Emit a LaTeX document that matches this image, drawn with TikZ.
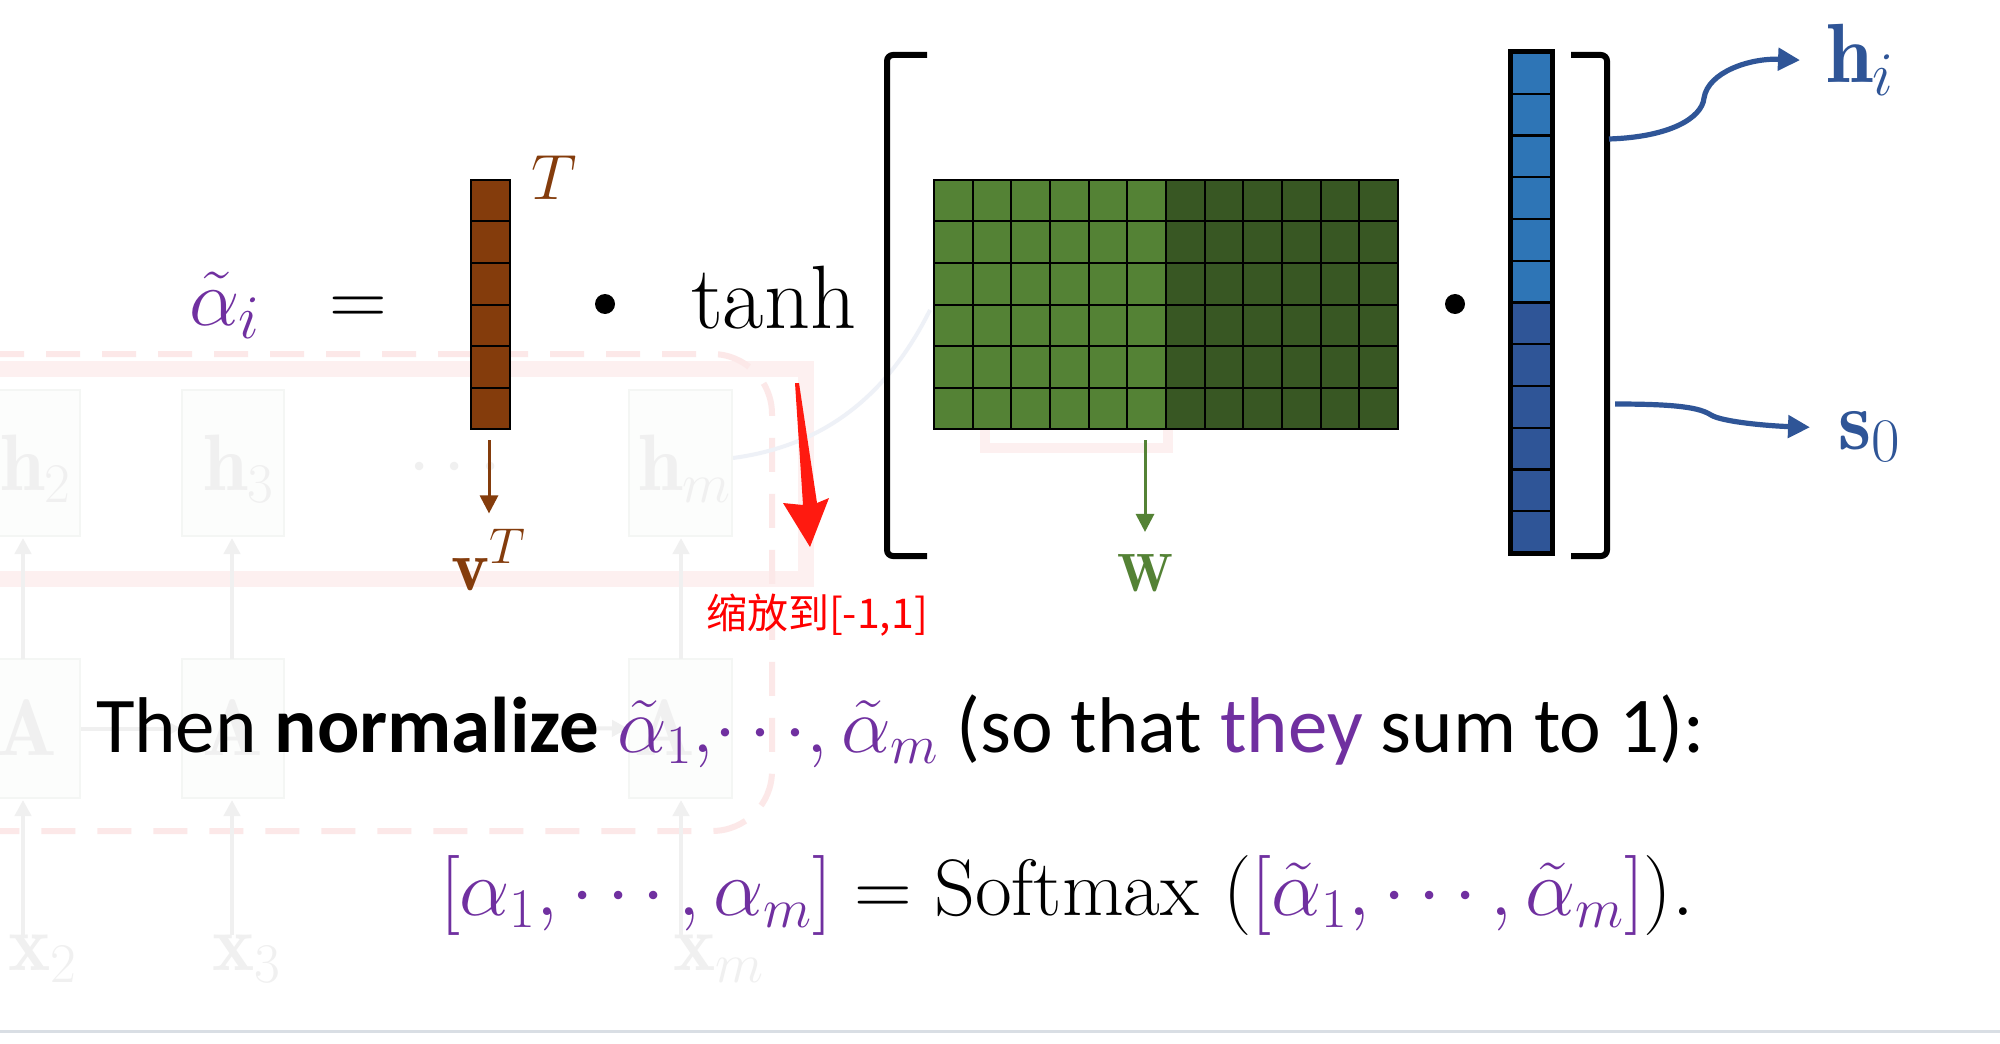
\RequirePackage{fix-cm}
\documentclass[tikz,border=0pt]{standalone}
\usepackage{fontspec}
\newfontfamily\calibri{Carlito}
\newfontfamily\cjk{Noto Sans CJK SC}
\usetikzlibrary{arrows.meta}
\definecolor{purp}{HTML}{7030A0}
\definecolor{brn}{HTML}{843C0C}
\definecolor{glight}{HTML}{548235}
\definecolor{gdark}{HTML}{385723}
\definecolor{blight}{HTML}{2E75B6}
\definecolor{bdark}{HTML}{2F5597}
\definecolor{redarrow}{HTML}{FF1A10}
\definecolor{ghtext}{HTML}{F0F0F0}
\definecolor{ghbox}{HTML}{F4F6F4}
\definecolor{ghfill}{HTML}{FCFDFC}
\definecolor{ghpink}{HTML}{FDF0F0}
\definecolor{ghdash}{HTML}{FCE8E8}
\definecolor{ghblue}{HTML}{EEF1F7}
\definecolor{rulegray}{HTML}{D9DEE4}
\newcommand\eqfont{\fontsize{40}{48}\selectfont}
\newcommand\bigsub[1]{\hbox{\fontsize{31}{36}\selectfont$#1$}}
\tikzset{
  lbl/.style={inner sep=0pt, outer sep=0pt},
  cell/.style={draw=black, line width=1pt},
  frame/.style={draw=black, inner sep=0pt, outer sep=0pt},
  bracket/.style={draw=black, line width=3pt, rounded corners=3pt},
  dotop/.style={circle, fill=black, inner sep=0pt, minimum size=10pt},
  thinarrow/.style={line width=1.5pt, -{Triangle[length=9pt,width=9pt]}},
  bluearrow/.style={draw=bdark, line width=2.6pt, -{Triangle[length=11pt,width=11pt]}},
  gbox/.style={draw=ghbox, fill=ghfill, line width=1pt},
  glbl/.style={inner sep=0pt, text=ghtext},
  garrow/.style={draw=ghtext, line width=2pt, -{Triangle[length=8pt,width=8pt]}},
}
\begin{document}
\begin{tikzpicture}[x=0.5pt,y=-0.5pt]
\useasboundingbox (0,0) rectangle (2000,1043);
\fill[white] (0,0) rectangle (2000,1043);

% ---------- faint background (ghost) ----------
\draw[ghpink, line width=8pt] (-10,369) -- (806,369) -- (806,579) -- (-10,579);
\draw[ghdash, line width=3pt, dash pattern=on 17pt off 11pt, rounded corners=30pt] (-10,354) -- (772,354) -- (772,831) -- (-10,831);
\draw[ghpink, line width=5pt] (985,420) -- (985,448) -- (1168,448) -- (1168,420);
\draw[ghblue, line width=2pt] (733,458) .. controls (830,445) and (890,390) .. (930,310);
\node[gbox, minimum width=42.5pt, minimum height=73pt, inner sep=0pt] (gh2) at (37.5,463) {};
\node[gbox, minimum width=51pt, minimum height=73pt, inner sep=0pt] (gh3) at (233,463) {};
\node[gbox, minimum width=51.5pt, minimum height=73pt, inner sep=0pt] (ghm) at (680.5,463) {};
\node[gbox, minimum width=42.5pt, minimum height=69.5pt, inner sep=0pt] (gA2) at (37.5,728.5) {};
\node[gbox, minimum width=51pt, minimum height=69.5pt, inner sep=0pt] (gA3) at (233,728.5) {};
\node[gbox, minimum width=51.5pt, minimum height=69.5pt, inner sep=0pt] (gAm) at (680.5,728.5) {};
\node[glbl, anchor=base west] (th2) at (0,490) {\eqfont$\mathbf{h}_2$};
\node[glbl, anchor=base west] (th3) at (203,490) {\eqfont$\mathbf{h}_3$};
\node[glbl, anchor=base west] (thm) at (638,490) {\eqfont$\mathbf{h}_m$};
\node[glbl] (tdots) at (455,469) {\eqfont$\cdots$};
\node[glbl, anchor=base] (tA2) at (27,755) {\eqfont$\mathbf{A}$};
\node[glbl, anchor=base] (tA3) at (233,755) {\eqfont$\mathbf{A}$};
\node[glbl, anchor=base] (tAm) at (665,755) {\eqfont$\mathbf{A}$};
\node[glbl, anchor=base west] (tx2) at (8,970) {\eqfont$\mathbf{x}_2$};
\node[glbl, anchor=base west] (tx3) at (212,970) {\eqfont$\mathbf{x}_3$};
\node[glbl, anchor=base west] (txm) at (673,970) {\eqfont$\mathbf{x}_m$};
\draw[garrow] (23,935) -- (23,800);
\draw[garrow] (232,935) -- (232,800);
\draw[garrow] (681,935) -- (681,800);
\draw[garrow] (23,659) -- (23,538);
\draw[garrow] (232,659) -- (232,538);
\draw[garrow] (681,659) -- (681,538);
\draw[garrow] (gA2.east) -- (gA3.west);
\draw[garrow] (560,728) -- (gAm.west);

% ---------- top equation ----------
\node[lbl, anchor=base west, text=purp] (alpha) at (189,325) {\eqfont$\tilde{\alpha}_{\bigsub{i}}$};
\node[lbl, anchor=base] (eq) at (358,325) {\eqfont$=$};

% v^T vector (brown)
\foreach \r in {0,...,5}
  \draw[cell, fill=brn] (471,{180+\r*41.5}) rectangle ++(39,41.5);
\node[frame, line width=1pt, minimum width=19.5pt, minimum height=124.5pt] (vvec) at (490.5,304.5) {};
\node[lbl, anchor=base west, text=brn] (vsup) at (531,200) {\fontsize{32}{38}\selectfont$T$};

\node[dotop] (dot1) at (605,304) {};
\node[lbl, anchor=base west] (tanh) at (691,328) {\fontsize{45}{52}\selectfont$\tanh$};

% left bracket
\draw[bracket] (927,55) -- (887,55) -- (887,556) -- (927,556);

% W matrix (green)
\foreach \c in {0,...,5}
  \foreach \r in {0,...,5}
    \draw[cell, fill=glight] ({934+\c*38.6667},{180+\r*41.5}) rectangle ++(38.6667,41.5);
\foreach \c in {6,...,11}
  \foreach \r in {0,...,5}
    \draw[cell, fill=gdark] ({934+\c*38.6667},{180+\r*41.5}) rectangle ++(38.6667,41.5);
\node[frame, line width=1pt, minimum width=232pt, minimum height=124.5pt] (Wmat) at (1166,304.5) {};

\node[dotop] (dot2) at (1455,304) {};

% [h_i; s_0] vector (blue)
\foreach \r in {0,...,5}
  \draw[cell, line width=1.2pt, fill=blight] (1510,{52+\r*41.75}) rectangle ++(42,41.75);
\foreach \r in {6,...,11}
  \draw[cell, line width=1.2pt, fill=bdark] (1510,{52+\r*41.75}) rectangle ++(42,41.75);
\node[frame, line width=2.5pt, minimum width=21pt, minimum height=250.5pt] (hvec) at (1531,302.5) {};

% right bracket
\draw[bracket] (1571,55) -- (1607,55) -- (1607,556) -- (1571,556);

% labels below
\node[lbl, anchor=base, text=brn] (vlab) at (489,590) {\fontsize{36}{42}\selectfont$\mathbf{v}^{T}$};
\node[lbl, anchor=base, text=glight] (wlab) at (1145,591) {\fontsize{27}{32}\selectfont$\mathbf{W}$};
\draw[thinarrow, draw=brn, fill=brn, shorten <=5.5pt, shorten >=8pt] (vlab |- vvec.south) -- (vlab.north);
\draw[thinarrow, draw=glight, fill=glight, shorten <=5.5pt, shorten >=11pt] (wlab |- Wmat.south) -- (wlab.north);

% h_i and s_0 outputs
\node[lbl, anchor=base west, text=bdark] (hlab) at (1826,83) {\fontsize{42}{50}\selectfont$\mathbf{h}_{\bigsub{i}}$};
\node[lbl, anchor=base west, text=bdark] (slab) at (1838,449) {\fontsize{42}{50}\selectfont$\mathbf{s}_{\bigsub{0}}$};
\coordinate (hsrc) at (1609,139);
\coordinate (ssrc) at (1615,404);
\draw[bluearrow] (hsrc) .. controls (1670,137) and (1702,118) .. (1704,98)
  .. controls (1708,72) and (1750,58) .. ([xshift=-13pt]hlab.west);
\draw[bluearrow] (ssrc) .. controls (1680,404) and (1700,408) .. (1711,415)
  .. controls (1722,422) and (1770,426) .. ([xshift=-14pt,yshift=4.5pt]slab.west);

% red annotation
\fill[redarrow] (795,383) -- (799,383) -- (817,503) -- (829,498) -- (810,547) -- (783,503) -- (803,505) -- cycle;
\node[lbl, text=red] (scalenote) at (817,615) {\cjk\fontsize{20.5}{24}\selectfont 缩放到[-1,1]};

% ---------- normalization text ----------
\node[lbl, anchor=base west] (norm) at (96,752) {\calibri\fontsize{39.5}{48}\selectfont Then \textbf{normalize} \textcolor{purp}{$\tilde{\alpha}_1,\!\cdots\!,\tilde{\alpha}_m$} (so that \textcolor{purp}{they} sum to 1):};
\node[lbl, anchor=base west] (soft) at (440,915) {\eqfont$\textcolor{purp}{[\alpha_1,\cdots,\alpha_m]} = \mathrm{Softmax}\ (\textcolor{purp}{[\tilde{\alpha}_1,\cdots,\tilde{\alpha}_m]}).$};

% bottom rule
\draw[rulegray, line width=1.5pt] (0,1031) -- (2000,1031);
\end{tikzpicture}
\end{document}
